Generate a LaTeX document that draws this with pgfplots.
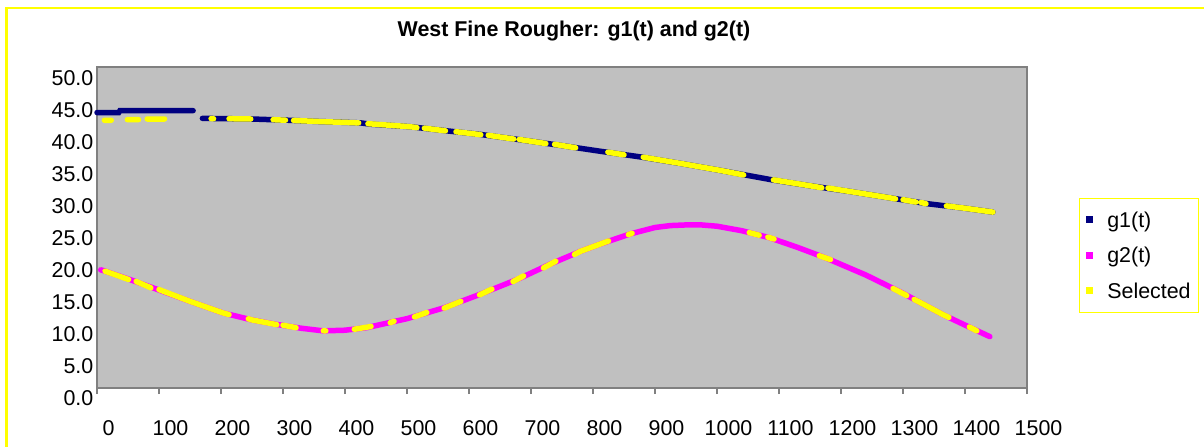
\documentclass[border=0pt]{standalone}
\usepackage{pgfplots}
\pgfplotsset{compat=1.18}
\usepackage{fontspec}
\setmainfont{Liberation Sans}
\definecolor{navyc}{HTML}{000080}
\definecolor{magc}{HTML}{FF00FF}
\definecolor{yelc}{HTML}{FFFF00}
\definecolor{plotbg}{HTML}{C0C0C0}
\definecolor{axgray}{HTML}{808080}
\begin{document}
\begin{tikzpicture}
\path[use as bounding box] (0,0) rectangle (1204bp,447bp);
\draw[yelc, line width=2.5bp] (6.5bp,0) -- (6.5bp,439bp) -- (1204bp,439bp);
\begin{axis}[
  at={(97bp,59bp)}, anchor=south west,
  scale only axis, width=930bp, height=321bp,
  xmin=0, xmax=1500, ymin=0, ymax=50,
  xtick distance=100, ytick distance=5,
  clip=false,
  unbounded coords=jump,
  axis background/.style={fill=plotbg},
  axis line style={draw=axgray, line width=1.5bp},
  tick pos=left,
  tick align=outside, major tick length=6bp,
  xtick style={draw=axgray, line width=1.2bp},
  ytick style={draw=none},
  tick label style={font=\fontsize{21.5}{25}\selectfont},
  /pgf/number format/assume math mode=true,
  /pgf/number format/1000 sep={},
  xticklabel style={anchor=base, yshift=-41bp, xshift=11.5bp, inner sep=0pt},
  yticklabel style={/pgf/number format/fixed, /pgf/number format/fixed zerofill, /pgf/number format/precision=1, anchor=base east, inner sep=0pt, xshift=2.5bp, yshift=-18bp},
  title={West Fine Rougher: g1(t) and g2(t)},
  title style={font=\bfseries\fontsize{21.5}{26}\selectfont, at={(0.5129,1.0757)}, anchor=base, inner sep=0pt},
  legend style={at={(1.1204,0.4128)}, anchor=center, draw=yelc, line width=1.5bp, fill=white,
     font=\fontsize{21.5}{25}\selectfont, row sep=14.5bp, inner xsep=6bp, inner ysep=11bp},
  legend cell align=left,
]
% g1(t)
\addplot[navyc, line width=5.5bp, line cap=round, forget plot] table {
x y
0 42.9
35 42.9
37 43.2
155 43.2
nan nan
170 42.0
250 41.9
310 41.7
360 41.5
425 41.3
440 41.1
505 40.7
560 40.1
618 39.5
680 38.7
747 37.8
810 36.9
876 36.0
940 35.0
1005 33.9
1090 32.4
1150 31.5
1215 30.6
1280 29.6
1340 28.7
1400 28.0
1445 27.4
};
% g2(t)
\addplot[magc, line width=5.5bp, line cap=round, forget plot] table {
x y
6 18.4
10 18.3
50 17.0
96 15.4
150 13.5
203 11.7
250 10.6
290 9.9
330 9.3
365 8.9
400 9.0
435 9.4
500 10.8
560 12.5
618 14.6
680 17.0
731 19.3
780 21.3
811 22.4
860 24.0
900 25.0
925 25.3
950 25.4
975 25.4
1000 25.2
1040 24.5
1085 23.4
1130 21.9
1177 20.2
1240 17.6
1295 15.0
1330 13.2
1365 11.4
1400 9.8
1440 8.0
};
% Selected
\addplot[yelc, line width=5.5bp, line cap=round, forget plot] table {
x y
12 41.7
23 41.7
nan nan
49 41.8
67 41.8
nan nan
81 41.9
109 41.9
nan nan
184 41.96
188 41.95
nan nan
213 41.95
248 41.9
nan nan
284 41.8
304 41.71
nan nan
317 41.68
360 41.5
422 41.3
nan nan
437 41.17
505 40.7
516 40.56
nan nan
528 40.47
562 40.06
nan nan
579 39.92
619 39.46
nan nan
631 39.36
672 38.78
nan nan
681 38.71
724 38.08
nan nan
738 37.95
772 37.42
nan nan
824 36.73
850 36.33
nan nan
881 35.95
940 35.0
1005 33.9
1043 33.19
nan nan
1091 32.42
1150 31.5
1169 31.19
nan nan
1179 31.15
1215 30.6
1280 29.6
1288 29.45
nan nan
1300 29.33
1321 28.96
nan nan
1329 28.9
1337 28.71
nan nan
1370 28.37
1400 28.0
1445 27.4
nan nan
13 18.2
51 16.9
nan nan
63 16.6
87 15.6
nan nan
100 15.33
150 13.5
203 11.7
213 11.44
nan nan
244 10.78
250 10.6
290 9.87
nan nan
300 9.78
321 9.4
nan nan
365 8.92
369 8.9
nan nan
415 9.15
442 9.58
nan nan
473 10.17
479 10.39
nan nan
512 11.08
532 11.76
nan nan
560 12.44
587 13.5
nan nan
617 14.5
637 15.41
nan nan
671 16.58
688 17.45
nan nan
720 18.7
740 19.75
nan nan
770 20.8
780 21.3
811 22.4
825 22.9
nan nan
857 23.9
863 24.1
nan nan
1052 24.2
1068 23.8
nan nan
1082 23.5
1092 23.2
nan nan
1165 20.6
1183 20.0
nan nan
1284 15.5
1306 14.4
nan nan
1318 13.8
1330 13.2
1365 11.4
1374 11.0
nan nan
1407 9.5
1419 8.9
};
\addlegendimage{legend image code/.code={\path[draw=none,fill=none] (-1bp,-3bp) rectangle (19bp,3bp); \fill[navyc] (0bp,-2.75bp) rectangle (5.5bp,2.75bp);}}
\addlegendentry{g1(t)}
\addlegendimage{legend image code/.code={\path[draw=none,fill=none] (-1bp,-3bp) rectangle (19bp,3bp); \fill[magc] (0bp,-2.75bp) rectangle (5.5bp,2.75bp);}}
\addlegendentry{g2(t)}
\addlegendimage{legend image code/.code={\path[draw=none,fill=none] (-1bp,-3bp) rectangle (19bp,3bp); \fill[yelc] (0bp,-2.75bp) rectangle (5.5bp,2.75bp);}}
\addlegendentry{Selected}
\end{axis}
\end{tikzpicture}
\end{document}
